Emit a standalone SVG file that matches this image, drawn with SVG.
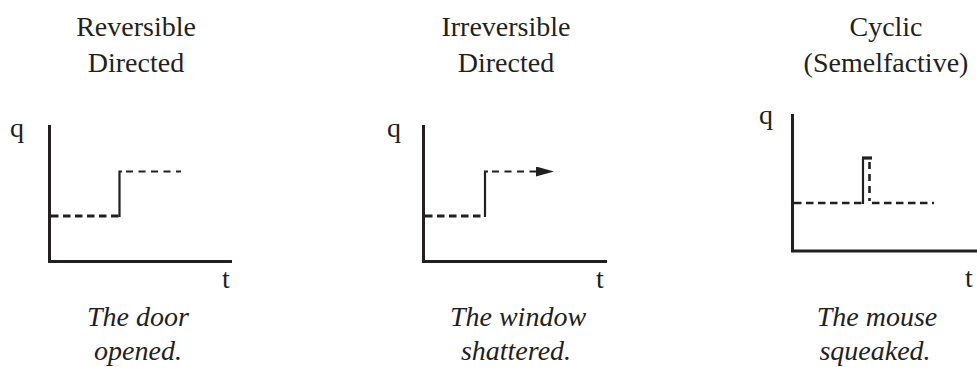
<svg xmlns="http://www.w3.org/2000/svg" width="977" height="367" viewBox="0 0 977 367">
<style>
.t{font-family:"Liberation Serif","Times New Roman",serif;font-size:28px;fill:#231f20;text-anchor:middle}
.i{font-style:italic}
.ax{stroke:#231f20;stroke-width:3;fill:none}
.sol{stroke:#231f20;stroke-width:2.2;fill:none}
.dl{stroke:#231f20;stroke-width:3;fill:none;stroke-dasharray:7.5 4.5}
.du{stroke:#231f20;stroke-width:2.2;fill:none;stroke-dasharray:7 5.5}
</style>
<defs>
<marker id="ah" markerWidth="18" markerHeight="10" refX="0" refY="5" orient="auto" markerUnits="userSpaceOnUse">
<path d="M0,0 L18,5 L0,10 Z" fill="#231f20"/>
</marker>
</defs>
<rect width="977" height="367" fill="#fff"/>
<g id="panel1">
<text class="t" x="136" y="36">Reversible</text>
<text class="t" x="136" y="72">Directed</text>
<text class="t" x="17" y="137">q</text>
<text class="t" x="226" y="288">t</text>
<text class="t i" x="138" y="326">The door</text>
<text class="t i" x="138" y="360">opened.</text>
</g>
<g id="panel2">
<text class="t" x="506" y="36">Irreversible</text>
<text class="t" x="506" y="72">Directed</text>
<text class="t" x="394" y="137">q</text>
<text class="t" x="600" y="288">t</text>
<text class="t i" x="518" y="326">The window</text>
<text class="t i" x="516" y="360">shattered.</text>
</g>
<g id="panel3">
<text class="t" x="886" y="36">Cyclic</text>
<text class="t" x="886" y="72">(Semelfactive)</text>
<text class="t" x="766" y="124">q</text>
<text class="t" x="969" y="287">t</text>
<text class="t i" x="877" y="326">The mouse</text>
<text class="t i" x="875" y="360">squeaked.</text>
</g>
<g id="connectors">
<path class="ax" d="M49.5,125 V261.5 H232"/>
<path class="dl" d="M51,216 H119"/>
<path class="sol" d="M119.5,217 V171.5 H122"/>
<path class="du" d="M126,171.5 H181"/>
<path class="ax" d="M423.5,125 V261.5 H607"/>
<path class="dl" d="M425,216 H484"/>
<path class="sol" d="M485,217 V171.5 H488"/>
<path class="du" d="M492,171.5 H536" marker-end="url(#ah)"/>
<path class="ax" d="M792.5,114 V251 H977"/>
<path class="du" style="stroke-width:2.6;stroke-dasharray:7.5 4.5" d="M794,203 H862"/>
<path class="du" style="stroke-width:2.6;stroke-dasharray:7.5 4.5" d="M872,203 H934"/>
<path class="sol" d="M863,204 V158"/>
<path class="ax" style="stroke-width:3.2" d="M862,158 H872"/>
<path class="du" style="stroke-width:2.6;stroke-dasharray:7 5" d="M869.5,162 V201"/>
</g>
</svg>
